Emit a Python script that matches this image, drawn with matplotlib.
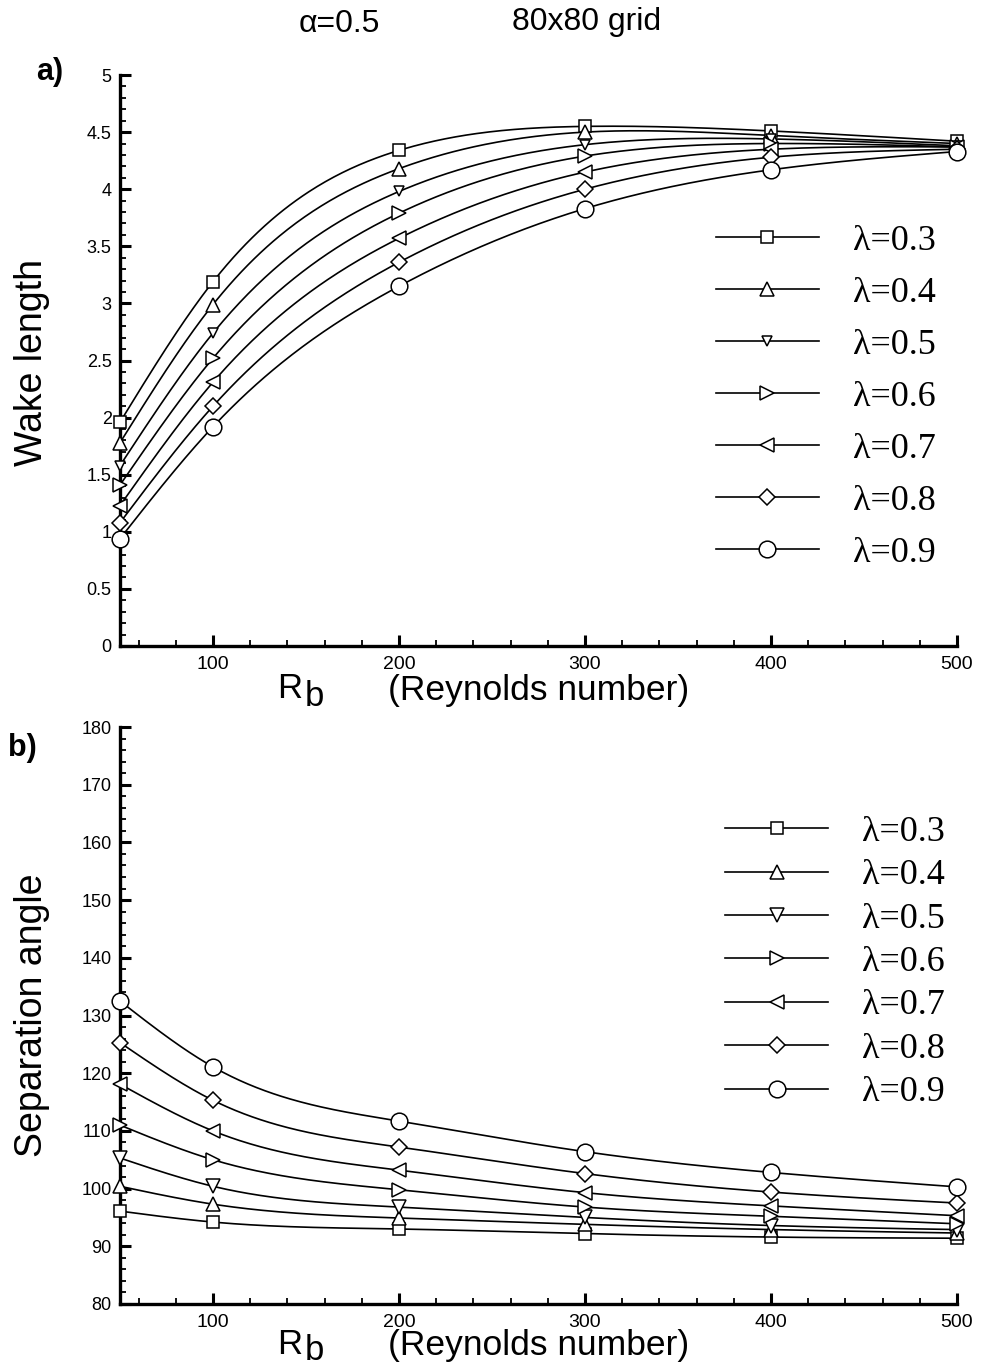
import numpy as np
import matplotlib
matplotlib.use("Agg")
import matplotlib.pyplot as plt
from matplotlib.lines import Line2D
from matplotlib.ticker import MultipleLocator

# ---------------- data ----------------
reynolds = [50, 100, 200, 300, 400, 500]
lambdas = ["λ=0.3", "λ=0.4", "λ=0.5", "λ=0.6", "λ=0.7", "λ=0.8", "λ=0.9"]

wake_03 = [1.96, 3.19, 4.34, 4.55, 4.51, 4.42]
wake_04 = [1.78, 2.99, 4.18, 4.50, 4.47, 4.40]
wake_05 = [1.58, 2.74, 3.98, 4.39, 4.44, 4.38]
wake_06 = [1.41, 2.52, 3.79, 4.29, 4.40, 4.37]
wake_07 = [1.23, 2.31, 3.57, 4.15, 4.35, 4.37]
wake_08 = [1.08, 2.10, 3.36, 4.00, 4.28, 4.35]
wake_09 = [0.94, 1.92, 3.15, 3.83, 4.17, 4.33]

sep_03 = [96.1, 94.2, 93.0, 92.2, 91.6, 91.4]
sep_04 = [100.4, 97.3, 94.9, 93.8, 92.9, 92.3]
sep_05 = [105.3, 100.4, 96.8, 95.0, 93.6, 92.9]
sep_06 = [111.0, 105.0, 99.8, 96.8, 95.2, 93.9]
sep_07 = [118.1, 110.0, 103.2, 99.3, 97.0, 95.3]
sep_08 = [125.3, 115.3, 107.2, 102.6, 99.4, 97.5]
sep_09 = [132.5, 121.1, 111.7, 106.4, 102.8, 100.3]

wake = [wake_03, wake_04, wake_05, wake_06, wake_07, wake_08, wake_09]
sep = [sep_03, sep_04, sep_05, sep_06, sep_07, sep_08, sep_09]

markers = ["s", "^", "v", ">", "<", "D", "o"]
msize_top = [8.5, 10, 6.5, 10, 10, 8, 12]
msize_bot = [8.5, 10, 10, 10, 10, 8, 12]


def natural_spline(x, y, xs):
    x = np.asarray(x, float); y = np.asarray(y, float)
    n = len(x); h = np.diff(x)
    A = np.zeros((n, n)); b = np.zeros(n)
    A[0, 0] = A[-1, -1] = 1
    for i in range(1, n - 1):
        A[i, i - 1] = h[i - 1]
        A[i, i] = 2 * (h[i - 1] + h[i])
        A[i, i + 1] = h[i]
        b[i] = 3 * ((y[i + 1] - y[i]) / h[i] - (y[i] - y[i - 1]) / h[i - 1])
    c = np.linalg.solve(A, b)
    bb = (y[1:] - y[:-1]) / h - h * (2 * c[:-1] + c[1:]) / 3
    d = (c[1:] - c[:-1]) / (3 * h)
    idx = np.clip(np.searchsorted(x, xs) - 1, 0, n - 2)
    dx = xs - x[idx]
    return y[idx] + bb[idx] * dx + c[idx] * dx ** 2 + d[idx] * dx ** 3


plt.rcParams['font.family'] = ['Liberation Sans', 'DejaVu Sans']
fig = plt.figure(figsize=(9.82, 13.66), dpi=100)

W, H = 982.0, 1366.0
def fax(l, r, t, b):
    return fig.add_axes([l / W, 1 - b / H, (r - l) / W, (b - t) / H])

ax1 = fax(120, 957, 75, 646)
ax2 = fax(120, 957, 727, 1304)

xs = np.linspace(50, 500, 400)


def style(ax, ylim, major, minor):
    ax.set_xlim(50, 500)
    ax.set_ylim(*ylim)
    for s in ["top", "right"]:
        ax.spines[s].set_visible(False)
    for s in ["left", "bottom"]:
        ax.spines[s].set_linewidth(2.4)
    ax.xaxis.set_major_locator(MultipleLocator(100))
    ax.xaxis.set_minor_locator(MultipleLocator(20))
    ax.yaxis.set_major_locator(MultipleLocator(major))
    ax.yaxis.set_minor_locator(MultipleLocator(minor))
    ax.tick_params(which="major", direction="in", length=8, width=2.2)
    ax.tick_params(which="minor", direction="in", length=4.5, width=1.3)
    ax.tick_params(axis="x", which="major", labelsize=14, pad=7)
    ax.tick_params(axis="y", which="major", labelsize=13, pad=6)
    ax.tick_params(top=False, right=False)


def draw(ax, data, msizes):
    for vals, m, ms in zip(data, markers, msizes):
        ax.plot(xs, natural_spline(reynolds, vals, xs), color="k", lw=1.2)
        ax.plot(reynolds, vals, linestyle="none", marker=m, ms=ms,
                mfc="white", mec="k", mew=1.1, clip_on=False, zorder=3)


draw(ax1, wake, msize_top)
draw(ax2, sep, msize_bot)
style(ax1, (0, 5), 0.5, 0.1)
style(ax2, (80, 180), 10, 2)

ax1.set_yticks(np.arange(0, 5.01, 0.5))
ax1.set_yticklabels(["0", "0.5", "1", "1.5", "2", "2.5", "3", "3.5", "4", "4.5", "5"])
ax1.set_xticks([100, 200, 300, 400, 500])
ax2.set_xticks([100, 200, 300, 400, 500])


def legend(ax, msizes, anchor, spacing):
    handles = [Line2D([], [], color="k", lw=1.2, marker=m, ms=ms, mfc="white",
                      mec="k", mew=1.1) for m, ms in zip(markers, msizes)]
    ax.legend(handles, lambdas, loc="center left", bbox_to_anchor=anchor,
              frameon=False, numpoints=1, handlelength=2.85, handletextpad=0.95,
              labelspacing=spacing, borderpad=0, borderaxespad=0,
              prop={"family": ["Liberation Serif", "DejaVu Serif"], "size": 26})


legend(ax1, msize_top, (0.712, 0.436), 0.52)
legend(ax2, msize_bot, (0.723, 0.592), 0.28)

# texts
fig.text(339 / W, 1 - 24 / H, "α=0.5", ha="center", va="center", fontsize=23)
fig.text(587 / W, 1 - 22 / H, "80x80 grid", ha="center", va="center", fontsize=23)
fig.text(50 / W, 1 - 72 / H, "a)", ha="center", va="center", fontsize=22, fontweight="bold")
fig.text(22 / W, 1 - 748 / H, "b)", ha="center", va="center", fontsize=22, fontweight="bold")
fig.text(32 / W, 1 - 362 / H, "Wake length", rotation=90, ha="center", va="center", fontsize=27)
fig.text(32 / W, 1 - 1015 / H, "Separation angle", rotation=90, ha="center", va="center", fontsize=27)
for yc in (690, 1345):
    fig.text(290 / W, 1 - (yc - 1) / H, "R", ha="center", va="center", fontsize=25)
    fig.text(314 / W, 1 - (yc + 6) / H, "b", ha="center", va="center", fontsize=25)
    fig.text(539 / W, 1 - yc / H, "(Reynolds number)", ha="center", va="center", fontsize=25.5)

fig.savefig("out.png", dpi=100)
